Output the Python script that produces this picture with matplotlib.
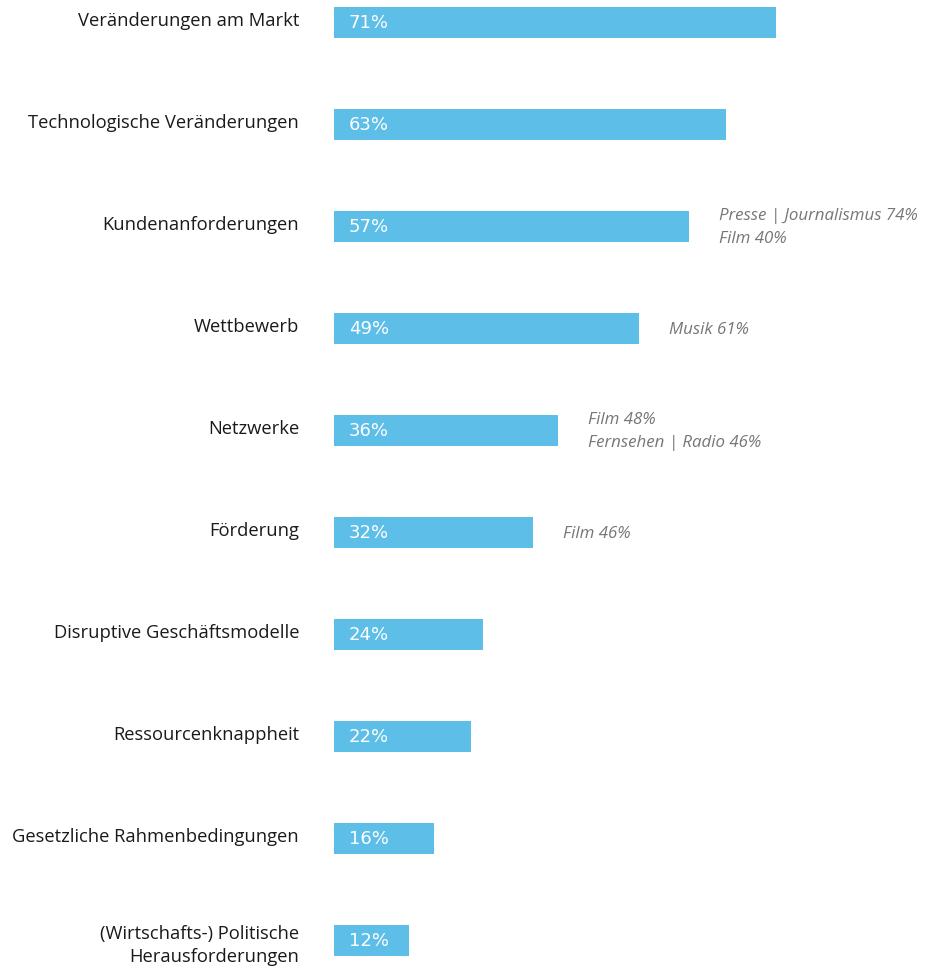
import matplotlib
matplotlib.use("Agg")
import matplotlib.pyplot as plt

# Einflussfaktoren (Anteil in %)
categories = [
    "Veränderungen am Markt",
    "Technologische Veränderungen",
    "Kundenanforderungen",
    "Wettbewerb",
    "Netzwerke",
    "Förderung",
    "Disruptive Geschäftsmodelle",
    "Ressourcenknappheit",
    "Gesetzliche Rahmenbedingungen",
    "(Wirtschafts-) Politische\nHerausforderungen",
]
values = [71, 63, 57, 49, 36, 32, 24, 22, 16, 12]
notes = ["", "", "Presse | Journalismus 74%\nFilm 40%", "Musik 61%",
         "Film 48%\nFernsehen | Radio 46%", "Film 46%", "", "", "", ""]

BAR_COLOR = "#5dbee8"
NOTE_COLOR = "#767676"
TEXT_COLOR = "#1a1a1a"

W, H = 925, 967
fig = plt.figure(figsize=(W / 100, H / 100), dpi=100)
left_px = 334
ax = fig.add_axes([left_px / W, 0, 1 - left_px / W, 1])

px_per_pct = 6.22
step = 102.0
first_center = 22.5
ys = list(range(len(categories)))

ax.barh(ys, values, height=31 / step, color=BAR_COLOR, left=0)
ax.set_xlim(0, (W - left_px) / px_per_pct)
ax.set_ylim((H - first_center) / step, -first_center / step)
ax.axis("off")

for y, cat, v, note in zip(ys, categories, values, notes):
    two_lines = "\n" in cat
    ax.annotate(cat, (0, y), xytext=(-35, -5 if two_lines else 1),
                textcoords="offset pixels",
                ha="right", va="center", multialignment="right",
                fontsize=13.2, family="Open Sans", color=TEXT_COLOR,
                linespacing=1.42, annotation_clip=False)
    ax.annotate(f"{v}%", (0, y), xytext=(15, -1), textcoords="offset pixels",
                ha="left", va="center", fontsize=13, family="DejaVu Sans",
                color="white")
    if note:
        ax.annotate(note, (v, y), xytext=(30, -1), textcoords="offset pixels",
                    ha="left", va="center", fontsize=12.2, family="Open Sans",
                    style="italic", color=NOTE_COLOR, linespacing=1.6,
                    annotation_clip=False)

fig.savefig("out.png", dpi=100)
